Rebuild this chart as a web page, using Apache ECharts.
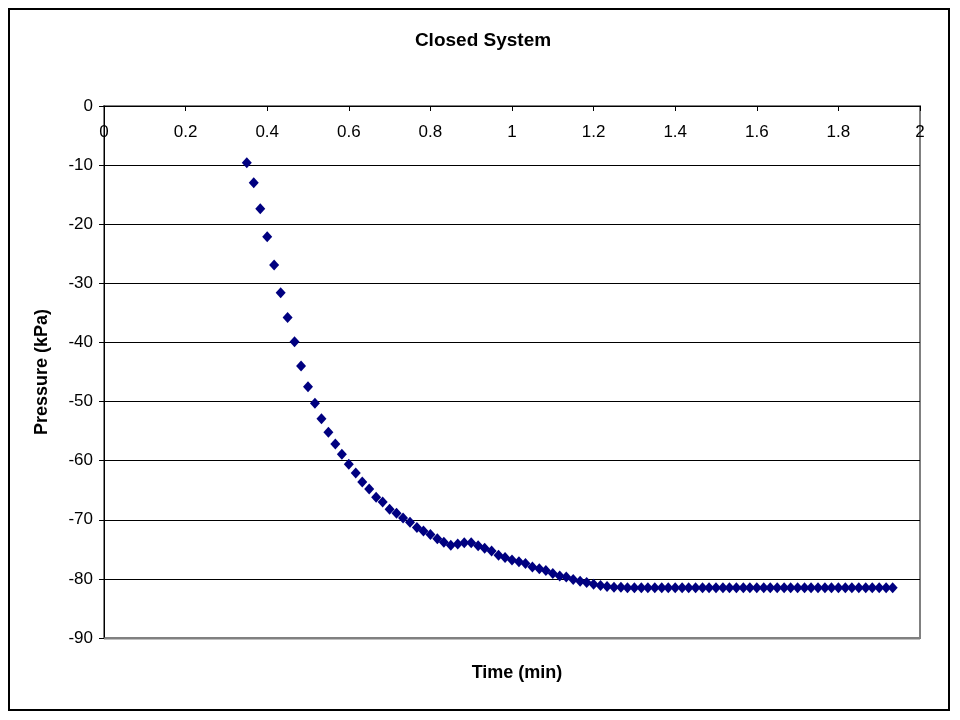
<!DOCTYPE html>
<html>
<head>
<meta charset="utf-8">
<script src="https://cdn.jsdelivr.net/npm/echarts@6/dist/echarts.min.js"></script>
<style>html,body{margin:0;padding:0;background:#fff;}#c{width:960px;height:720px;}</style>
</head>
<body>
<div id="c"></div>
<script>
const chartTitle = 'Closed System';
const xName = 'Time (min)';
const yName = 'Pressure (kPa)';
const timeMin = [
  0.350, 0.367, 0.383, 0.400, 0.417, 0.433, 0.450, 0.467, 0.483, 0.500,
  0.517, 0.533, 0.550, 0.567, 0.583, 0.600, 0.617, 0.633, 0.650, 0.667,
  0.683, 0.700, 0.717, 0.733, 0.750, 0.767, 0.783, 0.800, 0.817, 0.833,
  0.850, 0.867, 0.883, 0.900, 0.917, 0.933, 0.950, 0.967, 0.983, 1.000,
  1.017, 1.033, 1.050, 1.067, 1.083, 1.100, 1.117, 1.133, 1.150, 1.167,
  1.183, 1.200, 1.217, 1.233, 1.250, 1.267, 1.283, 1.300, 1.317, 1.333,
  1.350, 1.367, 1.383, 1.400, 1.417, 1.433, 1.450, 1.467, 1.483, 1.500,
  1.517, 1.533, 1.550, 1.567, 1.583, 1.600, 1.617, 1.633, 1.650, 1.667,
  1.683, 1.700, 1.717, 1.733, 1.750, 1.767, 1.783, 1.800, 1.817, 1.833,
  1.850, 1.867, 1.883, 1.900, 1.917, 1.933
];
const pressure = [
  -9.6, -13.0, -17.4, -22.1, -26.9, -31.6, -35.8, -39.9, -44.0, -47.5,
  -50.3, -52.9, -55.2, -57.2, -58.9, -60.6, -62.1, -63.6, -64.8, -66.2,
  -67.0, -68.2, -68.9, -69.7, -70.4, -71.3, -71.9, -72.5, -73.2, -73.8,
  -74.3, -74.1, -73.9, -73.9, -74.4, -74.8, -75.3, -76.0, -76.4, -76.8,
  -77.1, -77.4, -78.0, -78.3, -78.6, -79.1, -79.5, -79.7, -80.1, -80.4,
  -80.6, -80.9, -81.1, -81.3, -81.4, -81.4, -81.5, -81.5, -81.5, -81.5,
  -81.5, -81.5, -81.5, -81.5, -81.5, -81.5, -81.5, -81.5, -81.5, -81.5,
  -81.5, -81.5, -81.5, -81.5, -81.5, -81.5, -81.5, -81.5, -81.5, -81.5,
  -81.5, -81.5, -81.5, -81.5, -81.5, -81.5, -81.5, -81.5, -81.5, -81.5,
  -81.5, -81.5, -81.5, -81.5, -81.5, -81.5
];
const xMin = 0, xMax = 2, xStep = 0.2;
const yMin = -90, yMax = 0, yStep = 10;

const points = timeMin.map((t, i) => [t, pressure[i]]);
const chart = echarts.init(document.getElementById('c'), null, {renderer: 'canvas'});
const font = 'Arial, "Liberation Sans", sans-serif';
chart.setOption({
  animation: false,
  backgroundColor: '#ffffff',
  title: [
    {text: chartTitle, left: 478, top: 26, textAlign: 'center',
     textStyle: {fontFamily: font, fontSize: 19, fontWeight: 'bold', color: '#000'}},
    {text: xName, left: 512, top: 659, textAlign: 'center',
     textStyle: {fontFamily: font, fontSize: 18, fontWeight: 'bold', color: '#000'}}
  ],
  grid: {left: 104, top: 106, right: 40, bottom: 82, show: true,
         borderColor: '#808080', borderWidth: 2, backgroundColor: '#fff'},
  xAxis: {
    type: 'value', position: 'top', min: xMin, max: xMax, interval: xStep,
    axisLine: {show: true, onZero: false, lineStyle: {color: '#000', width: 1}},
    axisTick: {show: true, inside: true, length: 5, lineStyle: {color: '#000'}},
    axisLabel: {show: true, inside: true, margin: 18, color: '#000',
                fontFamily: font, fontSize: 17},
    splitLine: {show: false}
  },
  yAxis: {
    type: 'value', min: yMin, max: yMax, interval: yStep,
    name: yName, nameLocation: 'middle', nameGap: 53, nameRotate: 90,
    nameTextStyle: {fontFamily: font, fontSize: 18, fontWeight: 'bold', color: '#000'},
    axisLine: {show: true, onZero: false, lineStyle: {color: '#000', width: 1}},
    axisTick: {show: true, inside: false, length: 5, lineStyle: {color: '#000'}},
    axisLabel: {margin: 11, color: '#000', fontFamily: font, fontSize: 17},
    splitLine: {show: true, lineStyle: {color: '#000', width: 1}}
  },
  graphic: [
    {type: 'rect', shape: {x: 9, y: 9, width: 940, height: 701}, z: 100,
     style: {fill: null, stroke: '#000', lineWidth: 2}, silent: true},
    {type: 'line', shape: {x1: 104, y1: 638.5, x2: 920, y2: 638.5}, z: 100,
     style: {stroke: '#808080', lineWidth: 2}, silent: true}
  ],
  series: [{
    type: 'scatter',
    data: points,
    symbol: 'diamond',
    symbolSize: [10, 11],
    itemStyle: {color: '#000080', opacity: 1},
    z: 10
  }]
});
</script>
</body>
</html>
